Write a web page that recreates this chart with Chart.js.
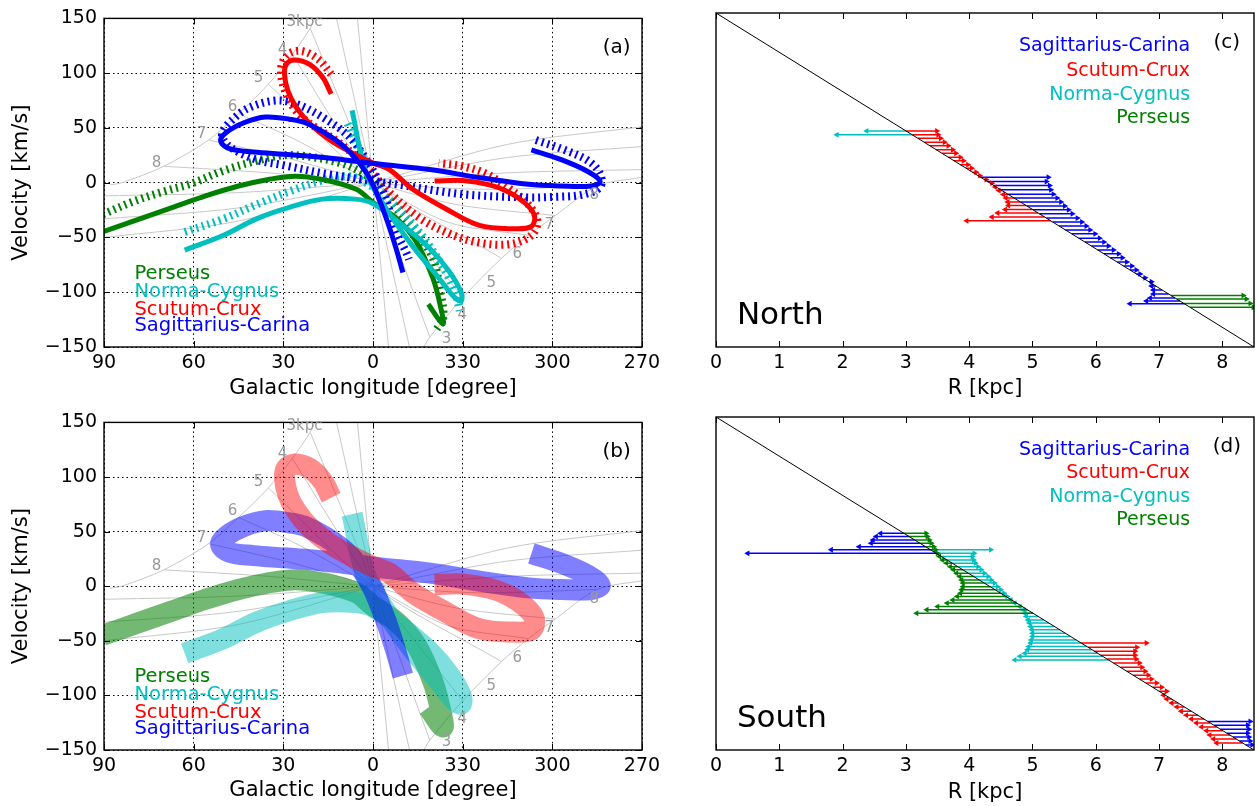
<!DOCTYPE html>
<html>
<head>
<meta charset="utf-8">
<script src="https://cdn.jsdelivr.net/npm/chart.js@4"></script>
<style>
  body { margin: 0; background: #fff; width: 1258px; height: 806px; overflow: hidden; position: relative; }
  canvas { position: absolute; }
</style>
</head>
<body>
<canvas id="pa" width="700" height="404" style="left:0px;top:0px"></canvas>
<canvas id="pb" width="700" height="402" style="left:0px;top:404px"></canvas>
<canvas id="pc" width="598" height="404" style="left:660px;top:0px"></canvas>
<canvas id="pd" width="598" height="402" style="left:660px;top:404px"></canvas>
<script>
// ---- longitude / velocity tracks, [l (deg), v (km/s)] ----
const persSolid = [[90.5,-45],[78,-33],[67,-22.5],[56,-12],[45,-3],[35,3],[26,6],[17,3],[5.6,-6],[0,-18],[-8,-33],[-14.5,-54],[-20,-87],[-22.5,-112],[-23.4,-129],[-18.5,-111]];
const persDot = [[90.5,-29],[80,-17],[70,-8],[61,-1],[50,11],[39,20],[30,25],[22,24],[11,18],[3,8],[-4,-8],[-8,-24],[-14.5,-45],[-20,-69],[-22.5,-99],[-23.5,-123],[-21,-135]];
const normaSolid = [[63,-61.5],[50,-48],[39,-33],[28,-22.5],[17,-15],[6,-15],[0,-19],[-10,-39],[-19,-60],[-25.5,-81],[-29.5,-100],[-29.5,-108],[-27,-104],[-22,-87],[-13,-57],[-4.5,-24],[2.3,9],[7,66]];
const normaDot = [[63,-45],[50,-33],[39,-20],[28,-8],[17,2],[8,6],[0,-4],[-8,-22],[-14,-40],[-20,-62],[-25,-85],[-28,-105],[-29,-117]];
const normaDot2 = [[8.5,54],[5.5,36],[2.5,18]];
const scutSolid = [[14,81],[16.8,96],[21.2,108],[26.3,112],[29,108],[29.6,99],[28.5,84],[25.7,69],[21.2,54],[14.5,39],[6.8,27],[0,18],[-5.5,12],[-13.3,-6],[-24.5,-24],[-35.6,-39],[-46.7,-42],[-53,-40],[-54,-30],[-51,-19],[-45,-8],[-39,-2],[-30,2],[-20.6,1.5]];
const scutDot = [[14,99],[18,112],[23.5,120],[28,118],[30.5,108],[30.5,94],[28.5,78],[25,63],[19,50],[12,38],[5,22],[0,8],[-6,-10],[-16,-33],[-26,-47],[-36,-55],[-46,-56],[-53,-48],[-55,-35],[-52,-20],[-46,-6],[-38,8],[-30,15],[-22,18]];
const sagSolid = [[-53,30],[-63,21],[-72,10],[-76,1],[-73,-3],[-63,-3],[-52,-1.5],[-36,4.5],[-19,12],[-2,17],[10,21],[20,24],[30,26],[40,28],[48,31],[51,38],[49,46],[43,55],[36,60],[28,58],[22,54],[11,36],[4,16],[0,-2],[-4.5,-33],[-7.5,-58],[-10,-82]];
const sagDot = [[-54.5,39],[-64,30],[-72,20],[-76,8],[-76,-4],[-70,-11],[-60,-13],[-52,-13.5],[-30,-10.5],[-8,-1.5],[14.5,7.5],[30,16],[39,21],[48,33],[50.5,45],[46,60],[41,69],[32.5,75],[25.7,72],[17,60],[8,42],[2,20],[-3,-5],[-7.8,-45],[-11,-63],[-12,-70]];

// gray reference curves (tangent curve and constant-R lines)
const tangentUp = [[88,-2],[84,0],[70,15],[55,39],[45,63],[35,90],[27,117],[21,141],[19.5,150]];
const tangentLow = [[-17,-150],[-19,-141],[-30,-105],[-43,-69],[-52,-48],[-61,-30],[-75,-3],[-90,5]];
const ringLines = [
  [[5.2,150],[-5.2,-150]],
  [[12.2,150],[-12.2,-150]],
  [[21,141],[0,0],[-19,-141]],
  [[27,117],[0,0],[-30,-105]],
  [[35,90],[0,0],[-43,-69]],
  [[45,63],[25,38],[0,0],[-25,-36],[-52,-48]],
  [[55,39],[28,22],[0,0],[-28,-20],[-61,-30]],
  [[70,15],[35,9],[0,0],[-35,-6],[-75,-3]],
  [[90,-12],[45,-9],[0,0],[-45,9],[-90,12]],
  [[90,-33],[45,-23],[0,0],[-45,23],[-90,33]],
  [[90,-50],[45,-35],[0,0],[-45,35],[-90,51]]
];
const ringLabels = [['3kpc',22.9,146.5],['4',30.3,121],['5',38.3,95.2],['6',47,69.2],['7',57.4,44],['8',72.4,18],
  ['8',-74,-11.7],['7',-59,-38.6],['6',-48.3,-65.5],['5',-39.6,-91.6],['4',-29.9,-121.3],['3',-24.6,-142.9]];

const armNames = ['Perseus', 'Norma-Cygnus', 'Scutum-Crux', 'Sagittarius-Carina'];
const armLabelV = [-83, -100, -116, -131];
const lonTicks = [90, 60, 30, 0, -30, -60, -90];

// ---- R panels: row position (on the diagonal) and arrow tip, kpc ----
const nNormaRows = [3.00, 3.10];
const nNormaTips = [2.38, 1.91];
const nScutRows = [3.00,3.10,3.19,3.29,3.38,3.48,3.57,3.67,3.76,3.86,3.95,4.05,4.14,4.24,4.33,4.43,4.52,4.62,4.71,4.81,4.90,5.00,5.09,5.19,5.29];
const nScutTips = [3.49,3.51,3.55,3.61,3.67,3.74,3.79,3.86,3.91,3.98,4.04,4.11,4.17,4.27,4.36,4.41,4.47,4.54,4.58,4.61,4.62,4.57,4.45,4.36,3.96];
const nSagRows = [4.18,4.29,4.39,4.50,4.61,4.71,4.81,4.91,5.01,5.11,5.22,5.32,5.42,5.52,5.62,5.73,5.83,5.93,6.03,6.13,6.23,6.34,6.44,6.54,6.64,6.74,6.84,6.95,7.05,7.15,7.25,7.33,7.40];
const nSagTips = [5.25,5.22,5.27,5.29,5.33,5.39,5.45,5.51,5.57,5.63,5.71,5.78,5.85,5.91,5.99,6.06,6.13,6.20,6.28,6.36,6.42,6.49,6.57,6.64,6.70,6.78,6.88,6.88,6.91,6.91,6.86,6.80,6.54];
const nPersRows = [7.19, 7.28, 7.39, 7.49];
const nPersTips = [8.33, 8.38, 8.44, 8.49];

const sSagRows = [2.97,3.05,3.14,3.22,3.31,3.39,3.48];
const sSagTips = [2.60,2.53,2.48,2.45,2.26,1.82,0.50];
const sPersRows = [2.97,3.05,3.14,3.22,3.31,3.39,3.48,3.56,3.65,3.73,3.82,3.90,3.99,4.07,4.16,4.24,4.33,4.41,4.50,4.58,4.67,4.75,4.84,4.92,5.01];
const sPersTips = [3.32,3.34,3.37,3.40,3.44,3.47,3.50,3.53,3.58,3.64,3.70,3.75,3.80,3.85,3.88,3.90,3.90,3.88,3.86,3.81,3.74,3.65,3.50,3.33,3.17];
const sNormaRows = [3.39,3.48,3.56,3.65,3.73,3.82,3.90,3.99,4.07,4.16,4.24,4.33,4.41,4.50,4.58,4.67,4.75,4.84,4.92,5.01,5.09,5.18,5.26,5.35,5.43,5.52,5.60,5.69,5.77,5.86,5.94,6.03,6.11,6.20];
const sNormaTips = [4.34,4.08,4.05,4.07,4.10,4.14,4.19,4.24,4.30,4.35,4.40,4.45,4.50,4.55,4.60,4.66,4.72,4.80,4.86,4.88,4.90,4.93,4.95,4.97,4.99,5.00,5.00,4.98,4.97,4.94,4.92,4.88,4.80,4.72];
const sScutRows = [5.77,5.88,5.98,6.08,6.18,6.28,6.39,6.49,6.59,6.69,6.79,6.90,7.00,7.10,7.20,7.30,7.40,7.51,7.61,7.71,7.81,7.91,8.01,8.12,8.22,8.32];
const sScutTips = [6.80,6.65,6.62,6.62,6.64,6.69,6.73,6.78,6.83,6.88,6.96,7.04,7.12,7.07,7.12,7.20,7.28,7.35,7.43,7.51,7.59,7.67,7.75,7.80,7.86,7.91];
const sSagRows2 = [7.77,7.87,7.97,8.07,8.17,8.27,8.37];
const sSagTips2 = [8.44,8.40,8.42,8.40,8.42,8.44,8.47];

const rTicks = [0, 1, 2, 3, 4, 5, 6, 7, 8];

// ---- colours ----
const C = { pers: '#008000', norma: '#00bfbf', scut: '#ff0000', sag: '#0000ff' };
const CA = { pers: 'rgba(0,128,0,0.55)', norma: 'rgba(0,191,191,0.5)', scut: 'rgba(255,0,0,0.45)', sag: 'rgba(0,0,255,0.5)' };
const FONT = "'DejaVu Sans', sans-serif";
Chart.defaults.font.family = FONT;
Chart.defaults.color = '#000';

function curve(pts, color, width, dash, order) {
  return {
    data: pts.map(p => ({ x: p[0], y: p[1] })),
    borderColor: color, borderWidth: width, borderDash: dash || [],
    pointRadius: 0, tension: 0.35, fill: false, order,
    borderJoinStyle: 'round', borderCapStyle: 'butt'
  };
}

function arrows(rows, tips, color) {
  const data = [];
  rows.forEach((r, i) => { data.push({ x: r, y: r }, { x: tips[i], y: r }, { x: null, y: null }); });
  return {
    data, borderColor: color, backgroundColor: color, borderWidth: 1.5, tension: 0,
    spanGaps: false, order: 1,
    pointStyle: 'triangle', pointBorderWidth: 0,
    pointRadius: c => (c.dataIndex % 3 === 1 ? 3.4 : 0),
    pointRotation: c => { const i = Math.floor(c.dataIndex / 3); return tips[i] > rows[i] ? 90 : -90; }
  };
}

// frame, inward ticks and free text, placed through the chart scales
function framePlugin(cfg) {
  return {
    id: 'frame',
    afterDatasetsDraw(chart) {
      const { ctx, chartArea: a, scales } = chart;
      ctx.save();
      ctx.strokeStyle = '#000';
      ctx.lineWidth = 1;
      const tl = 6;
      scales.x.ticks.forEach((t, i) => {
        const px = Math.round(scales.x.getPixelForTick(i)) + 0.5;
        ctx.beginPath();
        ctx.moveTo(px, a.bottom); ctx.lineTo(px, a.bottom - tl);
        ctx.moveTo(px, a.top); ctx.lineTo(px, a.top + tl);
        ctx.stroke();
      });
      if (cfg.yTicks) {
        scales.y.ticks.forEach((t, i) => {
          const py = Math.round(scales.y.getPixelForTick(i)) + 0.5;
          ctx.beginPath();
          ctx.moveTo(a.left, py); ctx.lineTo(a.left + tl, py);
          ctx.moveTo(a.right, py); ctx.lineTo(a.right - tl, py);
          ctx.stroke();
        });
      }
      ctx.lineWidth = 1.4;
      ctx.strokeRect(a.left, a.top, a.right - a.left, a.bottom - a.top);
      ctx.textBaseline = 'middle';
      (cfg.texts || []).forEach(t => {
        ctx.font = t.font;
        ctx.fillStyle = t.color;
        ctx.textAlign = t.align || 'left';
        ctx.fillText(t.text, scales.x.getPixelForValue(t.x), scales.y.getPixelForValue(t.y));
      });
      ctx.restore();
    }
  };
}

function lvTexts(tag) {
  const t = [];
  ringLabels.forEach(r => t.push({ text: r[0], x: r[1], y: r[2], color: '#999', font: '15px ' + FONT, align: 'center' }));
  const cols = [C.pers, C.norma, C.scut, C.sag];
  armNames.forEach((n, i) => t.push({ text: n, x: 79.8, y: armLabelV[i], color: cols[i], font: '19.5px ' + FONT }));
  t.push({ text: tag, x: -81.5, y: 123, color: '#000', font: '20px ' + FONT, align: 'center' });
  return t;
}

function lvChart(id, datasets, tag, xHeight, titleBottom) {
  return new Chart(document.getElementById(id), {
    type: 'line',
    data: { datasets },
    options: {
      responsive: false, animation: false, events: [],
      layout: { padding: { top: 13, right: 58, left: 0, bottom: 0 } },
      plugins: { legend: { display: false }, tooltip: { enabled: false } },
      scales: {
        x: {
          type: 'linear', min: -90, max: 90, reverse: true,
          afterBuildTicks: s => { s.ticks = lonTicks.map(v => ({ value: v })); },
          ticks: { padding: 5, font: { size: 19 }, color: '#000', callback: v => (v < 0 ? v + 360 : v) },
          grid: { color: '#000', lineWidth: 1, drawTicks: false },
          border: { display: false, dash: [1.5, 3] },
          title: { display: true, text: 'Galactic longitude [degree]', font: { size: 21 }, padding: { top: 0, bottom: titleBottom } },
          afterFit: s => { s.height = xHeight; }
        },
        y: {
          type: 'linear', min: -150, max: 150,
          ticks: { stepSize: 50, padding: 7, font: { size: 19 }, color: '#000', callback: v => (v < 0 ? '\u2212' + (-v) : v) },
          grid: { color: '#000', lineWidth: 1, drawTicks: false },
          border: { display: false, dash: [1.5, 3] },
          title: { display: true, text: 'Velocity [km/s]', font: { size: 21 }, padding: { top: 9, bottom: 0 } },
          afterFit: s => { s.width = 104; }
        }
      }
    },
    plugins: [framePlugin({ yTicks: true, texts: lvTexts(tag) })]
  });
}

function grayLines() {
  const g = [curve(tangentUp, '#c8c8c8', 1, null, 5), curve(tangentLow, '#c8c8c8', 1, null, 5)];
  ringLines.forEach(r => g.push(curve(r, '#c8c8c8', 1, null, 5)));
  g.forEach(d => { d.tension = 0.3; });
  return g;
}

// panel (a): model tracks, solid and hatched
const dsA = [
  curve(sagSolid, C.sag, 5, null, 1),
  curve(scutSolid, C.scut, 5, null, 1),
  curve(normaSolid, C.norma, 5, null, 1),
  curve(persSolid, C.pers, 5, null, 1),
  curve(sagDot, C.sag, 8, [2, 4], 2),
  curve(scutDot, C.scut, 8, [2, 4], 2),
  curve(normaDot, C.norma, 8, [2, 4], 2),
  curve(normaDot2, C.norma, 8, [2, 4], 2),
  curve(persDot, C.pers, 8, [2, 4], 2)
].concat(grayLines());
lvChart('pa', dsA, '(a)', 57, 2.5);

// panel (b): translucent bands
const dsB = [
  curve(scutSolid, CA.scut, 21, null, 1),
  curve(sagSolid, CA.sag, 21, null, 2),
  curve(normaSolid, CA.norma, 21, null, 3),
  curve(persSolid, CA.pers, 21, null, 4)
].concat(grayLines());
lvChart('pb', dsB, '(b)', 56, 2.5);

// panels (c), (d)
function rChart(id, datasets, tag, word, legendY, xHeight, titleBottom) {
  const cols = [C.sag, C.scut, C.norma, C.pers];
  const names = ['Sagittarius-Carina', 'Scutum-Crux', 'Norma-Cygnus', 'Perseus'];
  const texts = names.map((n, i) => ({ text: n, x: 7.49, y: legendY[i], color: cols[i], font: '19px ' + FONT, align: 'right' }));
  texts.push({ text: tag, x: 8.07, y: legendY[0] - 0.07, color: '#000', font: '20px ' + FONT, align: 'center' });
  texts.push({ text: word, x: 0.33, y: 7.72, color: '#000', font: '31px ' + FONT });
  datasets.push({ data: [{ x: 0, y: 0 }, { x: 8.5, y: 8.5 }], borderColor: '#000', borderWidth: 1, pointRadius: 0, order: 0 });
  return new Chart(document.getElementById(id), {
    type: 'line',
    data: { datasets },
    options: {
      responsive: false, animation: false, events: [],
      layout: { padding: { top: 13, right: 4, left: 56, bottom: 0 } },
      plugins: { legend: { display: false }, tooltip: { enabled: false } },
      scales: {
        x: {
          type: 'linear', min: 0, max: 8.5,
          afterBuildTicks: s => { s.ticks = rTicks.map(v => ({ value: v })); },
          ticks: { padding: 5, font: { size: 19 }, color: '#000' },
          grid: { display: false, drawTicks: false },
          border: { display: false },
          title: { display: true, text: 'R [kpc]', font: { size: 21 }, padding: { top: 0, bottom: titleBottom } },
          afterFit: s => { s.height = xHeight; }
        },
        y: { type: 'linear', min: 0, max: 8.5, reverse: true, display: false }
      }
    },
    plugins: [framePlugin({ yTicks: false, texts })]
  });
}

rChart('pc', [
  arrows(nNormaRows, nNormaTips, C.norma),
  arrows(nScutRows, nScutTips, C.scut),
  arrows(nSagRows, nSagTips, C.sag),
  arrows(nPersRows, nPersTips, C.pers)
], '(c)', 'North', [0.83, 1.47, 2.08, 2.67], 57, 2.5);

rChart('pd', [
  arrows(sSagRows, sSagTips, C.sag),
  arrows(sPersRows, sPersTips, C.pers),
  arrows(sNormaRows, sNormaTips, C.norma),
  arrows(sScutRows, sScutTips, C.scut),
  arrows(sSagRows2, sSagTips2, C.sag)
], '(d)', 'South', [0.84, 1.42, 2.04, 2.62], 56, 0.5);
</script>
</body>
</html>
